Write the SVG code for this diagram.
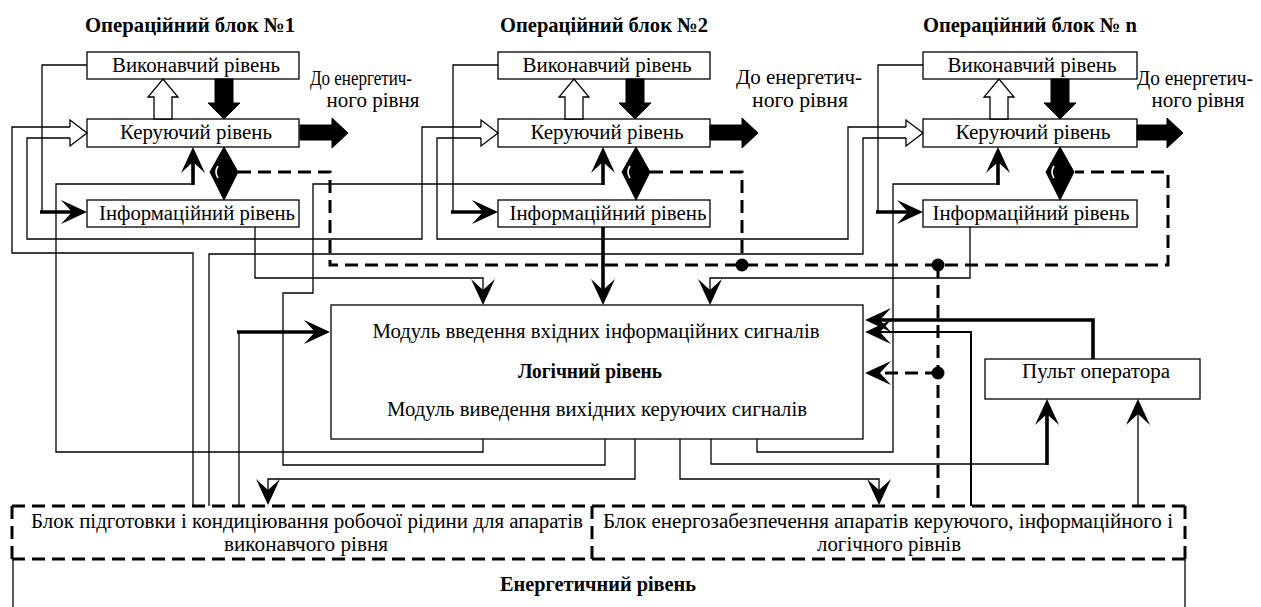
<svg xmlns="http://www.w3.org/2000/svg" width="1261" height="607" viewBox="0 0 1261 607">
<style>
.bg{fill:#fff}
.box{fill:#fff;stroke:#000;stroke-width:1.3}
text{font-family:'Liberation Serif','DejaVu Serif','Times New Roman',serif}
.t{font-size:20px;fill:#000;text-anchor:middle}
.b{font-weight:bold;font-size:21px}
.ln{fill:none;stroke:#000;stroke-width:1.3}
.md{stroke-width:2}
.thk{stroke-width:3.6}
.dash{fill:none;stroke:#000;stroke-width:3;stroke-dasharray:13 7}
.hol{fill:#fff;stroke:#000;stroke-width:1.3}
.fil{fill:#000;stroke:#000;stroke-width:1}
.wh{fill:none;stroke:#fff;stroke-width:1.6}
.ar{marker-end:url(#ah)}
</style>
<defs>
<marker id="ah" viewBox="-27 -13 28 26" markerWidth="28" markerHeight="26" refX="-5" refY="0" orient="auto" markerUnits="userSpaceOnUse">
<path d="M0,0 L-26,-12 L-15,0 L-26,12 Z" fill="#000"/>
</marker>
</defs>
<rect class="bg" x="0" y="0" width="1261" height="607"/>

<g id="connectors">
<polyline class="ln" points="87,65 42,65 42,212"/>
<line class="ln thk ar" x1="40" y1="212" x2="82" y2="212"/>
<polyline class="ln" points="498,65 453,65 453,212"/>
<line class="ln thk ar" x1="451" y1="212" x2="493" y2="212"/>
<polyline class="ln" points="923,65 878,65 878,212"/>
<line class="ln thk ar" x1="876" y1="212" x2="918" y2="212"/>
<polyline class="ln" points="70,127 12,127 12,253 193,253 193,506"/>
<polyline class="ln" points="70,138 27,138 27,239 422,239 422,127 481,127"/>
<polyline class="ln" points="481,138 437,138 437,239 848,239 848,127 906,127"/>
<polyline class="ln" points="906,138 863,138 863,254 209,254 209,506"/>
<polyline class="ln" points="483,439 483,452 56,452 56,184 193,184"/>
<line class="ln thk ar" x1="193" y1="185" x2="193" y2="152"/>
<polyline class="ln" points="605,439 605,465 283,465 283,293 313,293 313,184 603,184"/>
<line class="ln thk ar" x1="603" y1="185" x2="603" y2="152"/>
<polyline class="ln" points="757,439 757,452 893,452 893,184 998,184"/>
<line class="ln thk ar" x1="998" y1="185" x2="998" y2="152"/>
<polyline class="ln ar" points="255,227 255,278 483,278 483,300"/>
<line class="ln thk ar" x1="603" y1="227" x2="603" y2="300"/>
<polyline class="ln ar" points="970,227 970,278 710,278 710,300"/>
<polyline class="ln ar" points="635,439 635,479 268,479 268,500"/>
<polyline class="ln ar" points="680,439 680,479 879,479 879,500"/>
<polyline class="ln" points="711,439 711,464 1047,464"/>
<line class="ln thk ar" x1="1047" y1="465" x2="1047" y2="404"/>
<line class="ln ar" x1="1138" y1="506" x2="1138" y2="404"/>
<line class="ln" x1="239" y1="506" x2="239" y2="332"/>
<line class="ln thk ar" x1="237" y1="332" x2="325" y2="332"/>
<polyline class="ln thk ar" points="1093,359 1093,320 870,320"/>
<polyline class="ln md ar" points="971,506 971,332 870,332"/>
<polyline class="dash" points="238,172 330,172 330,265 1168,265 1168,172 1075,172"/>
<polyline class="dash" points="650,172 742,172 742,265"/>
<line class="dash" x1="938" y1="265" x2="938" y2="506"/>
<line class="dash ar" x1="938" y1="373" x2="870" y2="373"/>
<circle cx="742" cy="265" r="6.5" fill="#000"/>
<circle cx="938" cy="265" r="6.5" fill="#000"/>
<circle cx="938" cy="373" r="6.5" fill="#000"/>
</g>

<g id="block1">
<text class="t b" x="190" y="32" textLength="210" lengthAdjust="spacingAndGlyphs">Операційний блок №1</text>
<g id="b1-exec"><rect class="box" x="87" y="52" width="212" height="27"/><text class="t" x="196" y="72" textLength="168" lengthAdjust="spacingAndGlyphs">Виконавчий рівень</text></g>
<g id="b1-ctrl"><rect class="box" x="87" y="119" width="212" height="28"/><text class="t" x="196" y="139" textLength="152" lengthAdjust="spacingAndGlyphs">Керуючий рівень</text></g>
<g id="b1-info"><rect class="box" x="87" y="200" width="212" height="27"/><text class="t" x="197" y="220" textLength="196" lengthAdjust="spacingAndGlyphs">Інформаційний рівень</text></g>
<polygon class="hol" points="154,119 154,97 148,97 163,79 178,97 172,97 172,119"/>
<polygon class="fil" points="215,79 233,79 233,103 240,103 224,119 208,103 215,103"/>
<polygon class="fil" points="300,125 332,125 332,118 348,133 332,148 332,140 300,140"/>
<polyline class="hol" points="70,127 70,120 87,133 70,146 70,138"/>
<polygon class="fil" points="224,147 238,172 224,200 210,172"/>
<path class="wh" d="M218,166 Q214,172 218,178"/>
<text class="t" x="361" y="85" textLength="102" lengthAdjust="spacingAndGlyphs">До енергетич-</text>
<text class="t" x="373" y="107" textLength="93" lengthAdjust="spacingAndGlyphs">ного рівня</text>
</g>

<g id="block2">
<text class="t b" x="604" y="32" textLength="208" lengthAdjust="spacingAndGlyphs">Операційний блок №2</text>
<g id="b2-exec"><rect class="box" x="498" y="52" width="212" height="27"/><text class="t" x="607" y="72" textLength="169" lengthAdjust="spacingAndGlyphs">Виконавчий рівень</text></g>
<g id="b2-ctrl"><rect class="box" x="498" y="119" width="212" height="28"/><text class="t" x="607" y="139" textLength="153" lengthAdjust="spacingAndGlyphs">Керуючий рівень</text></g>
<g id="b2-info"><rect class="box" x="498" y="200" width="212" height="27"/><text class="t" x="608" y="220" textLength="197" lengthAdjust="spacingAndGlyphs">Інформаційний рівень</text></g>
<polygon class="hol" points="565,119 565,97 559,97 574,79 589,97 583,97 583,119"/>
<polygon class="fil" points="626,79 644,79 644,103 651,103 635,119 619,103 626,103"/>
<polygon class="fil" points="710,125 742,125 742,118 758,133 742,148 742,140 710,140"/>
<polyline class="hol" points="481,127 481,120 498,133 481,146 481,138"/>
<polygon class="fil" points="636,147 650,172 636,200 622,172"/>
<path class="wh" d="M630,166 Q626,172 630,178"/>
<text class="t" x="799" y="84" textLength="126" lengthAdjust="spacingAndGlyphs">До енергетич-</text>
<text class="t" x="800" y="107" textLength="96" lengthAdjust="spacingAndGlyphs">ного рівня</text>
</g>

<g id="blockn">
<text class="t b" x="1030" y="32" textLength="214" lengthAdjust="spacingAndGlyphs">Операційний блок № n</text>
<g id="bn-exec"><rect class="box" x="923" y="52" width="214" height="27"/><text class="t" x="1032" y="72" textLength="169" lengthAdjust="spacingAndGlyphs">Виконавчий рівень</text></g>
<g id="bn-ctrl"><rect class="box" x="923" y="119" width="214" height="28"/><text class="t" x="1033" y="139" textLength="155" lengthAdjust="spacingAndGlyphs">Керуючий рівень</text></g>
<g id="bn-info"><rect class="box" x="923" y="200" width="214" height="27"/><text class="t" x="1031" y="220" textLength="197" lengthAdjust="spacingAndGlyphs">Інформаційний рівень</text></g>
<polygon class="hol" points="990,119 990,97 984,97 999,79 1014,97 1008,97 1008,119"/>
<polygon class="fil" points="1051,79 1069,79 1069,103 1076,103 1060,119 1044,103 1051,103"/>
<polygon class="fil" points="1137,125 1167,125 1167,118 1183,133 1167,148 1167,140 1137,140"/>
<polyline class="hol" points="906,127 906,120 923,133 906,146 906,138"/>
<polygon class="fil" points="1060,147 1074,172 1060,200 1046,172"/>
<path class="wh" d="M1054,166 Q1050,172 1054,178"/>
<text class="t" x="1195" y="85" textLength="116" lengthAdjust="spacingAndGlyphs">До енергетич-</text>
<text class="t" x="1198" y="107" textLength="93" lengthAdjust="spacingAndGlyphs">ного рівня</text>
</g>

<g id="logic">
<rect class="box" x="331" y="305" width="532" height="134"/>
<text class="t" x="596" y="338" textLength="447" lengthAdjust="spacingAndGlyphs">Модуль введення вхідних інформаційних сигналів</text>
<text class="t b" x="590" y="378" textLength="144" lengthAdjust="spacingAndGlyphs">Логічний рівень</text>
<text class="t" x="597" y="416" textLength="420" lengthAdjust="spacingAndGlyphs">Модуль виведення вихідних керуючих сигналів</text>
</g>

<g id="console">
<rect class="box" x="985" y="359" width="215" height="40"/>
<text class="t" x="1096" y="378" textLength="148" lengthAdjust="spacingAndGlyphs">Пульт оператора</text>
</g>

<g id="energy">
<line class="dash" x1="12" y1="506" x2="1185" y2="506"/>
<line class="dash" x1="12" y1="559" x2="1185" y2="559"/>
<line class="dash" x1="12" y1="506" x2="12" y2="559"/>
<line class="dash" x1="1185" y1="506" x2="1185" y2="559"/>
<line class="ln" x1="13" y1="559" x2="13" y2="607"/>
<line class="ln" x1="1185" y1="559" x2="1185" y2="607"/>
<text class="t b" x="598" y="591" textLength="196" lengthAdjust="spacingAndGlyphs">Енергетичний рівень</text>
<g id="prep">
<text class="t" x="307" y="528" textLength="552" lengthAdjust="spacingAndGlyphs">Блок підготовки і кондиціювання робочої рідини для апаратів</text>
<text class="t" x="306" y="551" textLength="164" lengthAdjust="spacingAndGlyphs">виконавчого рівня</text>
</g>
<line class="dash" x1="592" y1="506" x2="592" y2="559"/>
<g id="power">
<text class="t" x="888" y="528" textLength="570" lengthAdjust="spacingAndGlyphs">Блок енергозабезпечення апаратів керуючого, інформаційного і</text>
<text class="t" x="889" y="551" textLength="144" lengthAdjust="spacingAndGlyphs">логічного рівнів</text>
</g>
</g>
</svg>
